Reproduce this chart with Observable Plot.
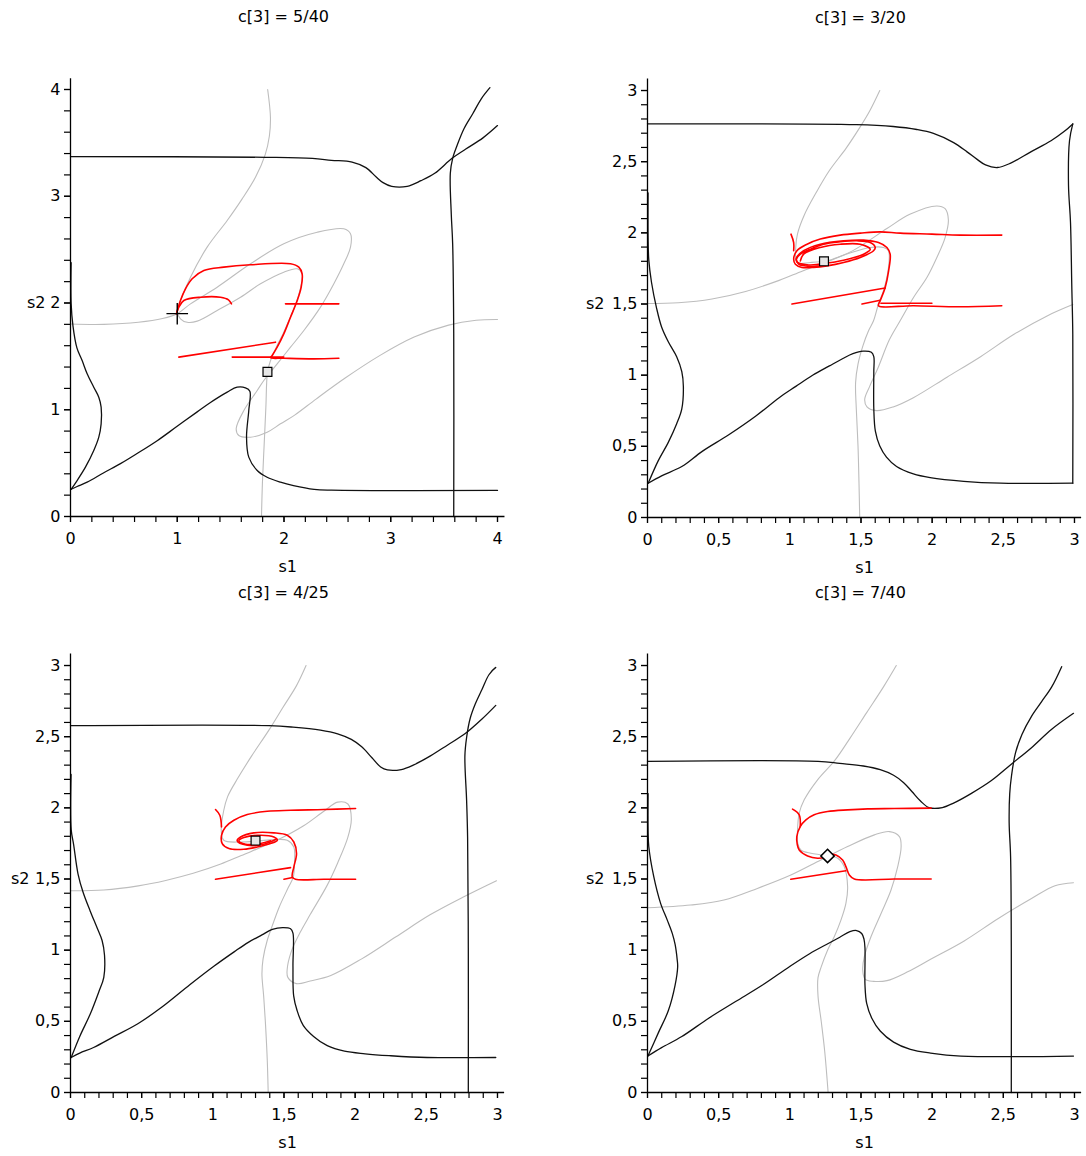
<!DOCTYPE html>
<html><head><meta charset="utf-8">
<script src="https://cdn.jsdelivr.net/npm/d3@7"></script>
<script src="https://cdn.jsdelivr.net/npm/@observablehq/plot@0.6"></script>
<style>
body{margin:0;background:#fff;overflow:hidden}
#root{position:relative;width:1086px;height:1156px;font-family:"DejaVu Sans",sans-serif;color:#000}
.title{position:absolute;width:300px;text-align:center;font-size:16px;line-height:20px}
</style></head><body><div id="root"></div>
<script>
// ---------- titles and ticks ----------
const titles = ["c[3] = 5/40", "c[3] = 3/20", "c[3] = 4/25", "c[3] = 7/40"];
const ticks4 = [0, 1, 2, 3, 4];
const ticks3 = [0, 0.5, 1, 1.5, 2, 2.5, 3];
const minor4 = d3.range(0, 4.0001, 0.2);
const minor3 = d3.range(0, 3.0001, 0.1);

// ---------- panel 1 : c[3] = 5/40 ----------
const p1BlackTop = [[0,3.372],[1.83,3.365],[2.266,3.355],[2.444,3.337],[2.638,3.32],[2.767,3.268],[2.864,3.18],[2.928,3.128],[3.009,3.093],[3.154,3.093],[3.283,3.146],[3.412,3.215],[3.574,3.355],[3.703,3.442],[3.864,3.547],[4.0,3.662]];
const p1BlackRight = [[3.59,0],[3.59,1.716],[3.58,2.553],[3.567,2.832],[3.558,3.215],[3.58,3.355],[3.622,3.477],[3.687,3.634],[3.768,3.773],[3.848,3.913],[3.929,4.017]];
const p1BlackLeft = [[0.006,2.378],[0.006,1.995],[0.023,1.786],[0.06,1.58],[0.109,1.461],[0.156,1.337],[0.218,1.211],[0.265,1.118],[0.287,1.024],[0.287,0.868],[0.265,0.743],[0.218,0.618],[0.14,0.462],[0.062,0.337],[0.006,0.255]];
const p1BlackBottom = [[0.006,0.255],[0.062,0.281],[0.156,0.322],[0.312,0.41],[0.468,0.495],[0.624,0.59],[0.812,0.71],[0.999,0.845],[1.187,0.98],[1.311,1.068],[1.468,1.165],[1.561,1.211],[1.639,1.205],[1.68,1.174],[1.67,0.993],[1.649,0.743],[1.67,0.556],[1.749,0.431],[1.842,0.368],[1.967,0.322],[2.089,0.29],[2.282,0.255],[2.444,0.247],[4.0,0.244]];
const p1GreyA = [[0,1.803],[0.313,1.8],[0.636,1.82],[0.862,1.855],[1.0,1.9],[1.124,1.992],[1.374,2.148],[1.686,2.367],[1.998,2.555],[2.311,2.663],[2.56,2.695],[2.623,2.648],[2.623,2.523],[2.56,2.367],[2.467,2.18],[2.342,1.961],[2.186,1.742],[2.061,1.586],[1.936,1.43],[1.811,1.274],[1.749,1.18],[1.624,0.993],[1.552,0.821],[1.577,0.759],[1.686,0.743],[1.842,0.79],[1.967,0.868],[2.1,0.95],[2.3,1.1],[2.573,1.297],[2.896,1.507],[3.219,1.681],[3.542,1.793],[3.8,1.838],[4.0,1.845]];
const p1GreyB = [[1.847,4.0],[1.873,3.738],[1.863,3.564],[1.824,3.39],[1.734,3.18],[1.605,2.971],[1.468,2.773],[1.28,2.523],[1.124,2.242],[1.03,2.023],[1.0,1.93],[1.03,1.852],[1.093,1.82],[1.187,1.83],[1.374,1.93],[1.593,2.054],[1.78,2.18],[1.998,2.289],[2.124,2.32],[2.17,2.27],[2.13,2.05],[2.06,1.87],[1.99,1.71],[1.93,1.59],[1.87,1.45],[1.845,1.35],[1.83,1.018],[1.814,0.67],[1.798,0.321],[1.789,0]];
const p1RedMain = [[2.514,1.483],[2.279,1.477],[1.998,1.483],[1.874,1.487],[1.889,1.508],[1.936,1.586],[1.998,1.711],[2.061,1.867],[2.124,2.023],[2.161,2.148],[2.17,2.273],[2.139,2.336],[2.061,2.367],[1.686,2.358],[1.436,2.336],[1.249,2.304],[1.14,2.227],[1.077,2.133],[1.03,2.023],[0.993,1.899]];
const p1RedB = [[1.015,1.493],[1.92,1.633]];
const p1RedC = [[1.515,1.493],[1.998,1.493]];
const p1RedD = [[2.514,1.992],[2.014,1.992]];
const p1RedE = [[1.508,1.992],[1.48,2.03],[1.405,2.054],[1.218,2.054],[1.062,2.023],[1.015,1.961],[0.993,1.9]];
const p1Cross = [[1.0,1.9]];
const p1Square = [[1.845,1.355]];

// ---------- panel 2 : c[3] = 3/20 ----------
const p2BlackTop = [[0,2.765],[1.467,2.76],[1.726,2.747],[1.892,2.726],[2.009,2.699],[2.151,2.634],[2.245,2.569],[2.316,2.516],[2.375,2.477],[2.458,2.459],[2.552,2.49],[2.693,2.569],[2.835,2.647],[2.929,2.713],[2.988,2.765]];
const p2BlackRight = [[2.988,2.765],[2.965,2.647],[2.958,2.333],[2.972,2.072],[2.981,1.627],[2.988,1.287],[2.988,0.241]];
const p2BlackBottom = [[2.988,0.241],[2.481,0.241],[2.222,0.254],[1.986,0.28],[1.868,0.306],[1.75,0.358],[1.679,0.424],[1.632,0.502],[1.601,0.607],[1.59,0.764],[1.59,1.025],[1.59,1.13],[1.573,1.161],[1.514,1.169],[1.443,1.151],[1.373,1.117],[1.278,1.065],[1.16,0.999],[1.042,0.921],[0.925,0.842],[0.759,0.711],[0.571,0.581],[0.382,0.463],[0.241,0.358],[0.099,0.293],[0.005,0.241]];
const p2BlackLeft = [[0.005,0.241],[0.075,0.398],[0.146,0.528],[0.205,0.659],[0.241,0.764],[0.252,0.921],[0.241,1.025],[0.205,1.13],[0.146,1.235],[0.099,1.339],[0.064,1.47],[0.028,1.653],[0.009,1.81],[0.004,1.967],[0.004,2.281]];
const p2GreyA = [[0,1.504],[0.217,1.509],[0.453,1.535],[0.689,1.588],[0.925,1.666],[1.09,1.732],[1.231,1.784],[1.443,1.875],[1.682,2.03],[1.843,2.13],[2.033,2.189],[2.091,2.17],[2.114,2.09],[2.091,1.967],[2.033,1.827],[1.963,1.686],[1.869,1.546],[1.775,1.382],[1.7,1.25],[1.62,1.052],[1.561,0.921],[1.526,0.829],[1.542,0.777],[1.608,0.751],[1.726,0.777],[1.868,0.842],[2.104,0.986],[2.34,1.13],[2.575,1.287],[2.811,1.418],[2.988,1.496]];
const p2GreyB = [[1.632,3.0],[1.561,2.856],[1.491,2.739],[1.396,2.595],[1.278,2.438],[1.184,2.281],[1.101,2.124],[1.054,1.993],[1.042,1.902],[1.05,1.792],[1.144,1.792],[1.261,1.804],[1.401,1.851],[1.565,1.897],[1.658,1.897],[1.693,1.874],[1.693,1.756],[1.658,1.593],[1.623,1.5],[1.588,1.382],[1.553,1.312],[1.514,1.208],[1.479,1.078],[1.462,0.947],[1.467,0.764],[1.479,0.502],[1.486,0.241],[1.491,0]];
const p2RedA = [[2.489,1.984],[2.196,1.984],[1.998,1.991],[1.775,1.998],[1.635,2.007],[1.495,1.998],[1.354,1.984],[1.214,1.956],[1.121,1.92],[1.05,1.874],[1.027,1.815],[1.039,1.78],[1.085,1.757],[1.167,1.757],[1.261,1.768],[1.378,1.792],[1.495,1.827],[1.588,1.874],[1.6,1.897],[1.565,1.932],[1.471,1.944],[1.354,1.937],[1.237,1.92],[1.144,1.885],[1.074,1.85],[1.046,1.815],[1.055,1.792],[1.121,1.775],[1.237,1.785],[1.378,1.808],[1.518,1.85],[1.565,1.885],[1.495,1.92],[1.354,1.92],[1.214,1.897],[1.097,1.85],[1.074,1.803]];
const p2RedB = [[2.489,1.488],[2.196,1.481],[1.869,1.488],[1.623,1.488],[1.635,1.523],[1.67,1.616],[1.694,1.733],[1.705,1.85],[1.682,1.897],[1.623,1.932],[1.518,1.949],[1.378,1.944],[1.214,1.92],[1.097,1.874],[1.046,1.822],[1.062,1.78],[1.144,1.764],[1.261,1.775]];
const p2RedC = [[1.015,1.5],[1.67,1.612]];
const p2RedD = [[1.507,1.5],[1.635,1.527]];
const p2RedE = [[1.998,1.505],[1.64,1.505]];
const p2RedF = [[1.008,1.991],[1.027,1.932],[1.027,1.874]];
const p2Square = [[1.24,1.8]];

// ---------- panel 3 : c[3] = 4/25 ----------
const p3BlackTop = [[0,2.577],[1.394,2.577],[1.563,2.567],[1.756,2.546],[1.877,2.52],[1.973,2.481],[2.046,2.429],[2.118,2.352],[2.179,2.287],[2.227,2.266],[2.324,2.269],[2.408,2.3],[2.529,2.365],[2.65,2.442],[2.771,2.52],[2.891,2.624],[2.988,2.72]];
const p3BlackRight = [[2.795,0],[2.795,1.016],[2.79,1.794],[2.783,2.053],[2.771,2.365],[2.783,2.494],[2.807,2.624],[2.843,2.727],[2.891,2.831],[2.94,2.935],[2.988,2.987]];
const p3BlackBottom = [[2.988,0.246],[2.505,0.246],[2.239,0.259],[2.07,0.272],[1.925,0.29],[1.804,0.329],[1.708,0.394],[1.635,0.472],[1.592,0.576],[1.568,0.679],[1.563,0.887],[1.563,1.12],[1.546,1.151],[1.49,1.159],[1.418,1.146],[1.345,1.107],[1.249,1.055],[1.152,0.99],[1.007,0.887],[0.838,0.757],[0.645,0.602],[0.476,0.485],[0.307,0.394],[0.162,0.316],[0.065,0.277],[0.005,0.246]];
const p3BlackLeft = [[0.005,0.246],[0.065,0.394],[0.138,0.55],[0.198,0.705],[0.234,0.809],[0.239,0.964],[0.222,1.068],[0.186,1.159],[0.138,1.276],[0.089,1.405],[0.053,1.535],[0.022,1.742],[0.005,1.846],[0.004,2.235]];
const p3GreyA = [[0,1.418],[0.234,1.423],[0.476,1.452],[0.669,1.49],[0.862,1.54],[1.056,1.605],[1.2,1.665],[1.442,1.768],[1.635,1.872],[1.78,1.976],[1.877,2.04],[1.949,2.027],[1.973,1.924],[1.949,1.794],[1.877,1.613],[1.804,1.457],[1.684,1.25],[1.611,1.12],[1.551,0.99],[1.522,0.861],[1.527,0.809],[1.587,0.765],[1.684,0.783],[1.829,0.822],[2.046,0.939],[2.287,1.094],[2.529,1.25],[2.771,1.379],[2.993,1.488]];
const p3GreyB = [[1.655,3.0],[1.587,2.857],[1.49,2.702],[1.394,2.546],[1.273,2.365],[1.176,2.209],[1.104,2.079],[1.077,1.983],[1.059,1.842],[1.077,1.772],[1.195,1.76],[1.312,1.767],[1.429,1.777],[1.523,1.772],[1.569,1.725],[1.574,1.632],[1.565,1.514],[1.53,1.44],[1.466,1.302],[1.418,1.172],[1.382,1.068],[1.353,0.939],[1.345,0.835],[1.357,0.679],[1.369,0.498],[1.382,0.239],[1.389,0]];
const p3RedA = [[2.003,1.995],[1.78,1.988],[1.546,1.983],[1.382,1.976],[1.242,1.953],[1.148,1.913],[1.089,1.866],[1.061,1.807],[1.066,1.749],[1.113,1.714],[1.218,1.709],[1.312,1.725],[1.405,1.749],[1.453,1.772],[1.429,1.795],[1.312,1.807],[1.218,1.791],[1.183,1.768],[1.23,1.744],[1.335,1.749],[1.405,1.768]];
const p3RedB = [[2.003,1.498],[1.78,1.498],[1.581,1.498],[1.558,1.514],[1.569,1.584],[1.588,1.679],[1.569,1.76],[1.523,1.807],[1.429,1.824],[1.288,1.824],[1.195,1.795],[1.171,1.768],[1.242,1.737],[1.358,1.744],[1.44,1.777]];
const p3RedC = [[1.019,1.498],[1.546,1.58]];
const p3RedD = [[1.5,1.498],[1.56,1.51]];
const p3RedE = [[1.019,1.988],[1.049,1.948],[1.061,1.866]];
const p3Square = [[1.3,1.77]];

// ---------- panel 4 : c[3] = 7/40 ----------
const p4BlackTop = [[0,2.327],[1.198,2.327],[1.351,2.312],[1.517,2.294],[1.635,2.268],[1.729,2.229],[1.8,2.177],[1.859,2.113],[1.918,2.048],[1.977,2.002],[2.072,2.002],[2.154,2.035],[2.273,2.1],[2.414,2.19],[2.556,2.307],[2.698,2.423],[2.84,2.552],[2.993,2.664]];
const p4BlackRight = [[2.556,0],[2.556,1.014],[2.551,1.66],[2.541,1.893],[2.545,2.1],[2.558,2.229],[2.585,2.384],[2.63,2.514],[2.698,2.643],[2.769,2.746],[2.84,2.85],[2.91,2.992]];
const p4BlackBottom = [[2.993,0.256],[2.202,0.256],[1.989,0.277],[1.847,0.303],[1.729,0.354],[1.635,0.432],[1.576,0.522],[1.54,0.626],[1.528,0.755],[1.528,1.014],[1.521,1.078],[1.505,1.117],[1.469,1.138],[1.422,1.13],[1.351,1.091],[1.257,1.04],[1.139,0.975],[0.997,0.884],[0.808,0.755],[0.619,0.639],[0.43,0.522],[0.241,0.393],[0.099,0.315],[0.003,0.256]];
const p4BlackLeft = [[0.003,0.256],[0.076,0.419],[0.146,0.574],[0.194,0.755],[0.212,0.884],[0.209,0.93],[0.194,1.04],[0.174,1.118],[0.139,1.211],[0.092,1.329],[0.044,1.516],[0.009,1.728],[0.004,1.841],[0.004,2.1]];
const p4GreyA = [[0,1.298],[0.303,1.317],[0.537,1.352],[0.772,1.434],[1.007,1.528],[1.218,1.634],[1.406,1.728],[1.594,1.81],[1.7,1.833],[1.77,1.798],[1.782,1.728],[1.758,1.587],[1.711,1.423],[1.641,1.258],[1.57,1.094],[1.523,0.953],[1.512,0.86],[1.53,0.795],[1.588,0.781],[1.682,0.786],[1.824,0.846],[1.989,0.936],[2.225,1.065],[2.462,1.221],[2.698,1.363],[2.863,1.453],[2.993,1.474]];
const p4GreyB = [[1.748,3.0],[1.658,2.85],[1.54,2.669],[1.422,2.488],[1.316,2.333],[1.195,2.197],[1.101,2.056],[1.066,1.963],[1.054,1.845],[1.056,1.751],[1.077,1.704],[1.148,1.681],[1.23,1.669],[1.336,1.646],[1.382,1.587],[1.406,1.446],[1.394,1.329],[1.359,1.211],[1.312,1.094],[1.265,1.0],[1.221,0.884],[1.198,0.807],[1.198,0.678],[1.221,0.497],[1.245,0.29],[1.269,0]];
const p4RedA = [[1.993,1.998],[1.735,1.995],[1.547,1.993],[1.406,1.986],[1.265,1.974],[1.171,1.951],[1.113,1.915],[1.073,1.868],[1.049,1.798],[1.052,1.745],[1.066,1.704],[1.125,1.662],[1.195,1.646],[1.254,1.653]];
const p4RedB = [[1.993,1.5],[1.735,1.5],[1.453,1.5],[1.418,1.528],[1.394,1.587],[1.371,1.634],[1.324,1.669],[1.277,1.676]];
const p4RedC = [[1.007,1.498],[1.394,1.558]];
const p4RedD = [[1.019,1.991],[1.066,1.951],[1.073,1.868]];
const p4Diamond = [[1.265,1.662]];

// ---------- drawing ----------
const fmt = d => String(+d.toFixed(2)).replace(".", ",");
const BLACK = "#111", GREY = "#bdbdbd", RED = "#ff0000";
const pt = {x: d => d[0], y: d => d[1]};

const panels = [
  {title: titles[0], ox: 70, oy: 516, k: 106.75, xExt: 4.07, yExt: 4.1, major: ticks4, minor: minor4, s2dx: -25,
   black: [p1BlackTop, p1BlackRight, p1BlackLeft, p1BlackBottom], grey: [p1GreyA, p1GreyB],
   red: [p1RedMain, p1RedB, p1RedC, p1RedD, p1RedE],
   markers: [{data: p1Cross, symbol: "plus", r: 7, fill: "none", sw: 1.4}, {data: p1Square, symbol: "square", r: 5, fill: "#e6e6e6", sw: 1.2}]},
  {title: titles[1], ox: 647, oy: 517, k: 142.33, xExt: 3.05, yExt: 3.08, major: ticks3, minor: minor3, s2dx: -43,
   black: [p2BlackTop, p2BlackRight, p2BlackBottom, p2BlackLeft], grey: [p2GreyA, p2GreyB],
   red: [p2RedA, p2RedB, p2RedC, p2RedD, p2RedE, p2RedF],
   markers: [{data: p2Square, symbol: "square", r: 5, fill: "#e6e6e6", sw: 1.2}]},
  {title: titles[2], ox: 70, oy: 1092, k: 142.33, xExt: 3.05, yExt: 3.08, major: ticks3, minor: minor3, s2dx: -41,
   black: [p3BlackTop, p3BlackRight, p3BlackBottom, p3BlackLeft], grey: [p3GreyA, p3GreyB],
   red: [p3RedA, p3RedB, p3RedC, p3RedD, p3RedE],
   markers: [{data: p3Square, symbol: "square", r: 5, fill: "#e6e6e6", sw: 1.2}]},
  {title: titles[3], ox: 647, oy: 1092, k: 142.33, xExt: 3.05, yExt: 3.08, major: ticks3, minor: minor3, s2dx: -43,
   black: [p4BlackTop, p4BlackRight, p4BlackBottom, p4BlackLeft], grey: [p4GreyA, p4GreyB],
   red: [p4RedA, p4RedB, p4RedC, p4RedD],
   markers: [{data: p4Diamond, symbol: "diamond2", r: 6, fill: "#ffffff", sw: 1.6}]}
];

const root = document.getElementById("root");
const W = 510, H = 540;
for (const c of panels) {
  const s2y = c.major[Math.floor(c.major.length / 2)];
  const chart = Plot.plot({
    width: W, height: H,
    marginLeft: 70, marginRight: W - 70 - c.xExt * c.k,
    marginTop: 476 - c.yExt * c.k, marginBottom: H - 476,
    x: {domain: [0, c.xExt], label: null},
    y: {domain: [0, c.yExt], label: null},
    style: {fontFamily: "DejaVu Sans, sans-serif", fontSize: "16px", background: "transparent", overflow: "visible", color: "#000"},
    marks: [
      ...c.grey.map(g => Plot.line(g, {...pt, stroke: GREY, strokeWidth: 1.1, curve: "catmull-rom"})),
      ...c.black.map(b => Plot.line(b, {...pt, stroke: BLACK, strokeWidth: 1.3, curve: "catmull-rom"})),
      ...c.red.map(r => Plot.line(r, {...pt, stroke: RED, strokeWidth: 1.6, curve: "catmull-rom"})),
      Plot.ruleY([0], {stroke: "#000", strokeWidth: 1.3}),
      Plot.ruleX([0], {stroke: "#000", strokeWidth: 1.3}),
      Plot.axisX({ticks: c.minor, tickSize: 6, tickFormat: () => "", label: null, strokeWidth: 1.2}),
      Plot.axisX({ticks: c.major, tickSize: 6, tickPadding: 10, tickFormat: fmt, fontSize: 16, label: null, strokeWidth: 1.2}),
      Plot.axisY({ticks: c.minor, tickSize: 6, tickFormat: () => "", label: null, strokeWidth: 1.2}),
      Plot.axisY({ticks: c.major, tickSize: 6, tickPadding: 4, tickFormat: fmt, fontSize: 16, label: null, strokeWidth: 1.2}),
      ...c.markers.map(m => Plot.dot(m.data, {...pt, symbol: m.symbol, r: m.r, stroke: "#000", fill: m.fill, strokeWidth: m.sw})),
      Plot.text(["s1"], {frameAnchor: "bottom", dy: 55, fontSize: 16, fill: "#000"}),
      Plot.text([[0, s2y]], {...pt, text: () => "s2", dx: c.s2dx, textAnchor: "end", fontSize: 16, fill: "#000"})
    ]
  });
  chart.style.position = "absolute";
  chart.style.left = (c.ox - 70) + "px";
  chart.style.top = (c.oy - 476) + "px";
  root.appendChild(chart);

  const t = document.createElement("div");
  t.className = "title";
  t.textContent = c.title;
  const cx = c.ox + (c.major[c.major.length - 1]) * c.k / 2;
  t.style.left = (cx - 150) + "px";
  t.style.top = (c.oy - 500 - 9) + "px";
  root.appendChild(t);
}
</script></body></html>
